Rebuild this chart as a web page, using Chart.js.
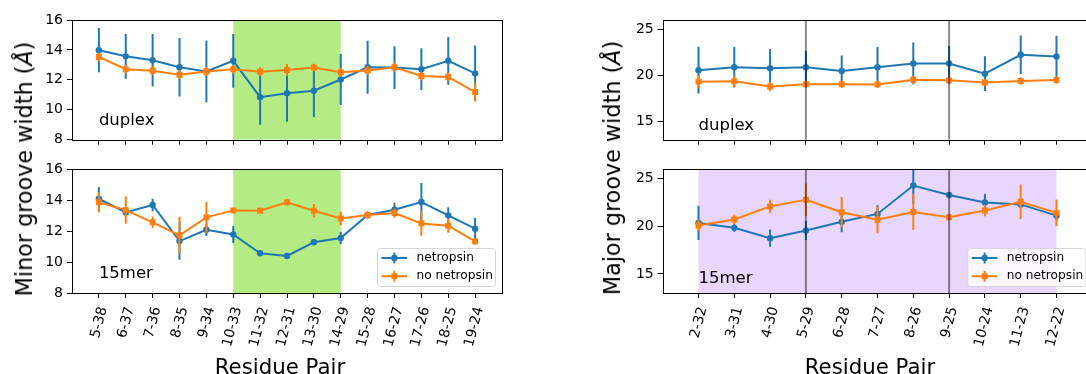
<!DOCTYPE html>
<html>
<head>
<meta charset="utf-8">
<script src="https://cdn.jsdelivr.net/npm/chart.js@4.4.1/dist/chart.umd.min.js"></script>
<style>
  body { margin: 0; width: 1086px; height: 374px; overflow: hidden; background: #fff; position: relative; font-family: "DejaVu Sans", sans-serif; }
  canvas { position: absolute; }
  .lbl { position: absolute; font-size: 21.3px; white-space: nowrap; color: #000; transform: translate(-50%, -50%); }
  .rot { font-size: 22.3px; transform: translate(-50%, -50%) rotate(-90deg); }
</style>
</head>
<body>
<canvas id="minorTop" width="510" height="152" style="left:0;top:0"></canvas>
<canvas id="minorBot" width="510" height="230" style="left:0;top:150px"></canvas>
<canvas id="majorTop" width="510" height="152" style="left:590px;top:0"></canvas>
<canvas id="majorBot" width="510" height="230" style="left:590px;top:150px"></canvas>

<div class="lbl rot" style="left:23.6px;top:169px">Minor groove width (<i>Å</i>)</div>
<div class="lbl rot" style="left:611.6px;top:167.5px">Major groove width (<i>Å</i>)</div>
<div class="lbl" style="left:280px;top:365.6px">Residue Pair</div>
<div class="lbl" style="left:870px;top:365.6px">Residue Pair</div>

<script>
// residue pairs
var minorPairs = ['5-38', '6-37', '7-36', '8-35', '9-34', '10-33', '11-32', '12-31', '13-30', '14-29', '15-28', '16-27', '17-26', '18-25', '19-24'];
var majorPairs = ['2-32', '3-31', '4-30', '5-29', '6-28', '7-27', '8-26', '9-25', '10-24', '11-23', '12-22'];

// minor groove, duplex
var minorDuplexNet = [13.98, 13.57, 13.31, 12.84, 12.56, 13.27, 10.84, 11.1, 11.27, 12.02, 12.84, 12.82, 12.71, 13.27, 12.43];
var minorDuplexNetErr = [1.48, 1.5, 1.75, 1.95, 2.07, 1.8, 1.85, 1.9, 1.75, 1.7, 1.78, 1.43, 1.4, 1.6, 1.86];
var minorDuplexNo = [13.53, 12.71, 12.6, 12.34, 12.56, 12.71, 12.54, 12.66, 12.82, 12.5, 12.62, 12.84, 12.26, 12.19, 11.18];
var minorDuplexNoErr = [0.3, 0.3, 0.3, 0.3, 0.3, 0.3, 0.3, 0.4, 0.25, 0.3, 0.3, 0.3, 0.3, 0.3, 0.62];

// minor groove, 15mer
var minor15Net = [14.08, 13.2, 13.68, 11.35, 12.08, 11.78, 10.56, 10.39, 11.27, 11.55, 13.03, 13.37, 13.87, 13.01, 12.15];
var minor15NetErr = [0.75, 0.2, 0.4, 1.2, 0.4, 0.55, 0.1, 0.1, 0.1, 0.4, 0.2, 0.45, 1.23, 0.52, 0.7];
var minor15No = [13.85, 13.35, 12.56, 11.72, 12.88, 13.33, 13.31, 13.85, 13.31, 12.81, 13.03, 13.16, 12.49, 12.34, 11.33];
var minor15NoErr = [0.65, 0.88, 0.37, 1.2, 1.0, 0.15, 0.1, 0.2, 0.43, 0.45, 0.25, 0.3, 0.8, 0.45, 0.2];

// major groove, duplex
var majorDuplexNet = [20.55, 20.86, 20.76, 20.86, 20.45, 20.86, 21.28, 21.28, 20.17, 22.22, 22.04];
var majorDuplexNetErr = [2.55, 2.2, 2.1, 1.8, 1.7, 2.2, 2.27, 1.9, 1.9, 2.1, 2.25];
var majorDuplexNo = [19.3, 19.33, 18.78, 19.02, 19.02, 19.0, 19.51, 19.44, 19.2, 19.37, 19.48];
var majorDuplexNoErr = [0.7, 0.6, 0.5, 0.4, 0.4, 0.4, 0.4, 0.4, 0.4, 0.4, 0.4];

// major groove, 15mer
var major15Net = [20.35, 19.83, 18.75, 19.55, 20.46, 21.29, 24.27, 23.27, 22.5, 22.29, 21.11];
var major15NetErr = [1.8, 0.4, 0.9, 1.0, 1.1, 0.9, 1.9, 0.3, 0.9, 0.3, 0.5];
var major15No = [20.07, 20.7, 22.08, 22.78, 21.46, 20.67, 21.5, 20.94, 21.64, 22.57, 21.4];
var major15NoErr = [0.6, 0.5, 0.7, 1.7, 1.6, 1.4, 1.9, 0.3, 0.6, 1.8, 1.4];

var BLUE = '#1f77b4';
var ORANGE = '#ff7f0e';

Chart.defaults.font.family = '"DejaVu Sans"';
Chart.defaults.color = '#000';

function points(vals) {
  return vals.map(function (v, i) { return { x: i, y: v }; });
}

function series(label, vals, err, color, square, order) {
  return {
    label: label,
    data: points(vals),
    err: err,
    borderColor: color,
    backgroundColor: color,
    borderWidth: 2,
    pointStyle: square ? 'rect' : 'circle',
    pointRadius: square ? 4.2 : 3.2,
    pointBorderWidth: 0,
    pointBackgroundColor: color,
    tension: 0,
    order: order
  };
}

function drawMarker(ctx, ds, x, y) {
  ctx.fillStyle = ds.borderColor;
  ctx.beginPath();
  if (ds.pointStyle === 'rect') {
    var s = ds.pointRadius * Math.SQRT1_2;
    ctx.rect(x - s, y - s, 2 * s, 2 * s);
  } else {
    ctx.arc(x, y, ds.pointRadius, 0, Math.PI * 2);
  }
  ctx.fill();
}

var panelPlugin = {
  id: 'panel',
  beforeDatasetsDraw: function (chart, args, opts) {
    var ctx = chart.ctx, a = chart.chartArea, xs = chart.scales.x;
    if (opts.span) {
      var x0 = xs.getPixelForValue(opts.span[0]);
      var x1 = xs.getPixelForValue(opts.span[1]);
      ctx.save();
      ctx.fillStyle = opts.spanColor;
      ctx.fillRect(x0, a.top, x1 - x0, a.bottom - a.top);
      ctx.restore();
    }
  },
  // error bars go under each series line
  beforeDatasetDraw: function (chart, args) {
    var ctx = chart.ctx, a = chart.chartArea;
    var ds = chart.data.datasets[args.index];
    var xs = chart.scales.x, ys = chart.scales.y;
    ctx.save();
    ctx.beginPath();
    ctx.rect(a.left, a.top, a.right - a.left, a.bottom - a.top);
    ctx.clip();
    ctx.strokeStyle = ds.borderColor;
    ctx.lineWidth = 2;
    ds.data.forEach(function (p, i) {
      var px = xs.getPixelForValue(p.x);
      ctx.beginPath();
      ctx.moveTo(px, ys.getPixelForValue(p.y - ds.err[i]));
      ctx.lineTo(px, ys.getPixelForValue(p.y + ds.err[i]));
      ctx.stroke();
    });
    ctx.restore();
  },
  afterDatasetsDraw: function (chart, args, opts) {
    var ctx = chart.ctx, a = chart.chartArea;
    var xs = chart.scales.x, ys = chart.scales.y;
    ctx.save();
    (opts.vlines || []).forEach(function (v) {
      var px = xs.getPixelForValue(v);
      ctx.strokeStyle = 'rgba(0,0,0,0.45)';
      ctx.lineWidth = 2;
      ctx.beginPath();
      ctx.moveTo(px, a.top);
      ctx.lineTo(px, a.bottom);
      ctx.stroke();
    });

    ctx.strokeStyle = '#000';
    ctx.lineWidth = 1;
    ctx.strokeRect(Math.round(a.left) + 0.5, Math.round(a.top) + 0.5,
      Math.round(a.right - a.left), Math.round(a.bottom - a.top));

    ctx.fillStyle = '#000';
    ctx.font = '16.5px "DejaVu Sans"';
    ctx.textBaseline = 'alphabetic';
    ctx.textAlign = 'left';
    ctx.fillText(opts.tag, xs.getPixelForValue(0), ys.getPixelForValue(opts.tagY));

    if (opts.legend) {
      var w = 118, h = 38;
      var bx = a.right - 6.5 - w, by = a.bottom - 6.5 - h;
      ctx.fillStyle = 'rgba(255,255,255,0.8)';
      ctx.strokeStyle = '#d6d6d6';
      ctx.beginPath();
      ctx.roundRect(bx, by, w, h, 3);
      ctx.fill();
      ctx.stroke();
      chart.data.datasets.forEach(function (ds, i) {
        var cy = by + 9.4 + i * 18.3;
        var hx0 = bx + 4, hx1 = bx + 29.7, hm = (hx0 + hx1) / 2;
        ctx.strokeStyle = ds.borderColor;
        ctx.lineWidth = 2;
        ctx.beginPath();
        ctx.moveTo(hx0, cy);
        ctx.lineTo(hx1, cy);
        ctx.moveTo(hm, cy - 5.5);
        ctx.lineTo(hm, cy + 5.5);
        ctx.stroke();
        drawMarker(ctx, ds, hm, cy);
        ctx.fillStyle = '#000';
        ctx.font = '12.2px "DejaVu Sans"';
        ctx.textBaseline = 'middle';
        ctx.fillText(ds.label, bx + 39, cy);
      });
    }
    ctx.restore();
  }
};

function makePanel(id, cats, net, netErr, no, noErr, o) {
  var tick = { drawOnChartArea: false, drawTicks: true, tickLength: 5, color: '#000', lineWidth: 1 };
  new Chart(document.getElementById(id), {
    type: 'line',
    data: {
      datasets: [
        series('netropsin', net, netErr, BLUE, false, 1),
        series('no netropsin', no, noErr, ORANGE, true, 0)
      ]
    },
    options: {
      responsive: false,
      animation: false,
      events: [],
      layout: { padding: { top: o.padTop, right: o.padRight, left: 0, bottom: 0 } },
      scales: {
        x: {
          type: 'linear',
          min: -1,
          max: cats.length,
          grid: tick,
          border: { display: false },
          afterBuildTicks: function (s) {
            s.ticks = cats.map(function (c, i) { return { value: i }; });
          },
          afterFit: function (s) { s.height = o.xHeight; },
          ticks: {
            autoSkip: false,
            minRotation: 75,
            maxRotation: 75,
            padding: 7,
            labelOffset: 4.5,
            font: { size: 14 },
            callback: function (v) { return o.showLabels ? cats[v] : ''; }
          }
        },
        y: {
          min: o.yMin,
          max: o.yMax,
          grid: tick,
          border: { display: false },
          afterBuildTicks: function (s) {
            s.ticks = o.yTicks.map(function (v) { return { value: v }; });
          },
          afterFit: function (s) { s.width = o.yWidth; },
          ticks: { padding: 4, font: { size: 14 } }
        }
      },
      plugins: {
        legend: { display: false },
        tooltip: { enabled: false },
        panel: {
          span: o.span,
          spanColor: o.spanColor,
          vlines: o.vlines,
          tag: o.tag,
          tagY: o.tagY,
          legend: o.legend
        }
      }
    },
    plugins: [panelPlugin]
  });
}

var minorTicks = [8, 10, 12, 14, 16];
var majorTicks = [15, 20, 25];

makePanel('minorTop', minorPairs, minorDuplexNet, minorDuplexNetErr, minorDuplexNo, minorDuplexNoErr, {
  padTop: 20, padRight: 8, xHeight: 8, yWidth: 72, yMin: 8, yMax: 16, yTicks: minorTicks,
  span: [5, 9], spanColor: 'rgb(180,235,132)', tag: 'duplex', tagY: 9, showLabels: false
});
makePanel('minorBot', minorPairs, minor15Net, minor15NetErr, minor15No, minor15NoErr, {
  padTop: 19, padRight: 8, xHeight: 87, yWidth: 72, yMin: 8, yMax: 16, yTicks: minorTicks,
  span: [5, 9], spanColor: 'rgb(180,235,132)', tag: '15mer', tagY: 9, showLabels: true, legend: true
});
makePanel('majorTop', majorPairs, majorDuplexNet, majorDuplexNetErr, majorDuplexNo, majorDuplexNoErr, {
  padTop: 20, padRight: 7.7, xHeight: 8, yWidth: 72.7, yMin: 13, yMax: 26, yTicks: majorTicks,
  vlines: [3, 7], tag: 'duplex', tagY: 14, showLabels: false
});
makePanel('majorBot', majorPairs, major15Net, major15NetErr, major15No, major15NoErr, {
  padTop: 19, padRight: 7.7, xHeight: 87, yWidth: 72.7, yMin: 13, yMax: 26, yTicks: majorTicks,
  span: [0, 10], spanColor: 'rgb(232,214,252)', vlines: [3, 7], tag: '15mer', tagY: 14, showLabels: true, legend: true
});
</script>
</body>
</html>
